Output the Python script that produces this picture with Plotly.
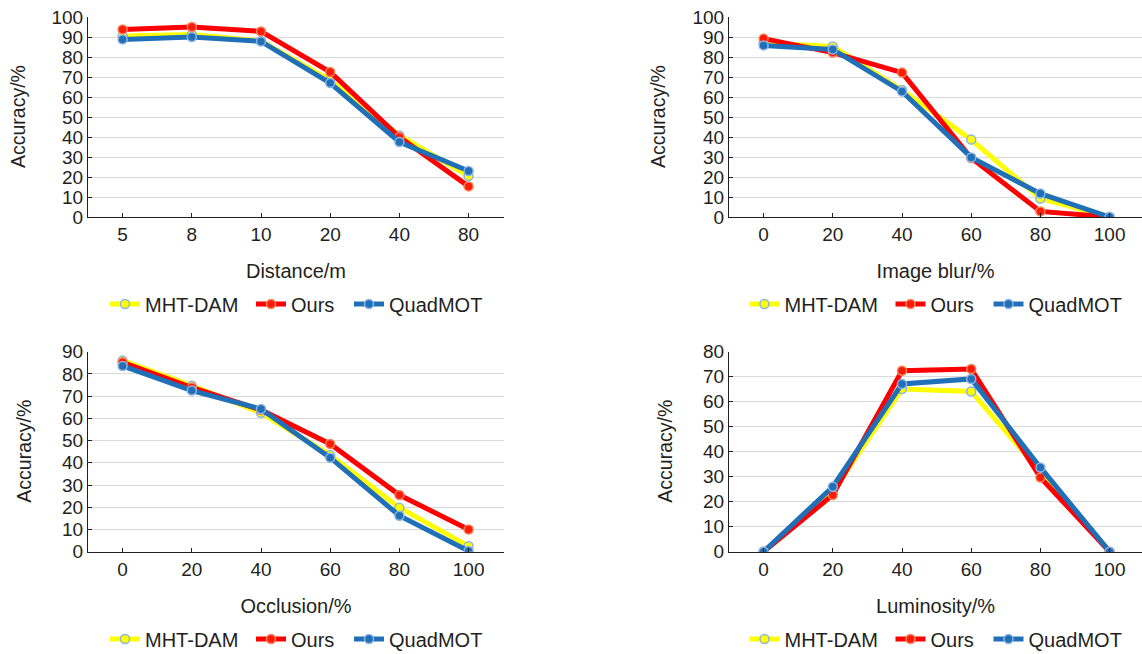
import plotly.graph_objects as go

# ---------------- data ----------------
series_names = ["MHT-DAM", "Ours", "QuadMOT"]

distance_cats = ["5", "8", "10", "20", "40", "80"]
distance_mht = [90.5, 91.2, 88.0, 68.3, 40.8, 20.5]
distance_ours = [93.8, 95.0, 92.8, 72.5, 40.0, 15.3]
distance_quad = [88.8, 90.0, 87.8, 67.0, 37.5, 23.0]

blur_cats = ["0", "20", "40", "60", "80", "100"]
blur_mht = [87.0, 85.3, 63.5, 38.7, 9.2, 0.0]
blur_ours = [89.2, 82.2, 72.2, 29.5, 2.8, 0.0]
blur_quad = [85.8, 83.8, 62.8, 29.8, 11.7, 0.0]

occl_cats = ["0", "20", "40", "60", "80", "100"]
occl_mht = [86.0, 74.7, 62.5, 43.5, 19.8, 2.5]
occl_ours = [85.2, 73.9, 63.8, 48.5, 25.5, 10.0]
occl_quad = [83.6, 72.5, 64.2, 42.3, 16.2, 0.3]

lum_cats = ["0", "20", "40", "60", "80", "100"]
lum_mht = [0.0, 24.0, 65.1, 64.1, 32.0, 0.0]
lum_ours = [0.0, 22.7, 72.4, 73.1, 29.7, 0.0]
lum_quad = [0.0, 26.0, 67.1, 69.1, 33.7, 0.0]

x_titles = ["Distance/m", "Image blur/%", "Occlusion/%", "Luminosity/%"]
y_title = "Accuracy/%"
y_maxes = [100, 100, 90, 80]

# ---------------- style ----------------
FONT = "Liberation Sans, Arial, sans-serif"
TXT = "#231F20"
W, H = 1142, 654
styles = {
    "MHT-DAM": dict(line=dict(color="#FFFF00", width=5),
                    marker=dict(size=9, color="#FFFF00", line=dict(color="#8DB4E2", width=1.5))),
    "Ours": dict(line=dict(color="#FF0000", width=5),
                 marker=dict(size=9, color="#FF1A0A", line=dict(color="#F5855A", width=1.5))),
    "QuadMOT": dict(line=dict(color="#2070B8", width=5),
                    marker=dict(size=9, color="#2070B8", line=dict(color="#8DB4E2", width=1.5))),
}
legend_widths = {"MHT-DAM": 101, "Ours": 53, "QuadMOT": 93}

panels = [
    (distance_cats, [distance_mht, distance_ours, distance_quad]),
    (blur_cats, [blur_mht, blur_ours, blur_quad]),
    (occl_cats, [occl_mht, occl_ours, occl_quad]),
    (lum_cats, [lum_mht, lum_ours, lum_quad]),
]

# pixel geometry (left, right, top, bottom) of each plot area
geo = [
    (88, 504, 17, 217),
    (729, 1142, 17, 217),
    (88, 504, 351.7, 551.7),
    (729, 1142, 351.7, 551.7),
]
legend_y_px = [304, 304, 639, 639]
ytitle_x_px = [18, 658, 24, 665]

fig = go.Figure()
layout = dict(
    width=W, height=H,
    margin=dict(l=0, r=0, t=0, b=0, autoexpand=False),
    paper_bgcolor="white", plot_bgcolor="white",
    font=dict(family=FONT, size=19, color=TXT),
)
annotations = []

for i, (cats, vals) in enumerate(panels):
    k = "" if i == 0 else str(i + 1)
    for name, v in zip(series_names, vals):
        fig.add_trace(go.Scatter(
            x=cats, y=v, name=name, mode="lines+markers",
            xaxis="x" + k, yaxis="y" + k, legend="legend" + k,
            legendwidth=legend_widths[name],
            **styles[name]))
    l, r, t, b = geo[i]
    xr_hi = -0.5 + (r - l) / 69.2
    layout["xaxis" + k] = dict(
        domain=[l / W, r / W], anchor="y" + k, type="category",
        range=[-0.5, xr_hi],
        showline=True, linecolor=TXT, linewidth=1,
        ticks="inside", ticklen=4, tickcolor=TXT,
        showgrid=False, zeroline=False, automargin=False,
        tickfont=dict(size=19, color=TXT),
        title=dict(text=x_titles[i], standoff=20, font=dict(size=20, color=TXT)),
        fixedrange=True,
    )
    layout["yaxis" + k] = dict(
        domain=[1 - b / H, 1 - t / H], anchor="x" + k,
        range=[0, y_maxes[i]], dtick=10, tick0=0,
        showline=True, linecolor=TXT, linewidth=1,
        ticks="inside", ticklen=4, tickcolor=TXT,
        showgrid=True, gridcolor="#D9D9D9", gridwidth=1,
        zeroline=False, automargin=False,
        tickfont=dict(size=19, color=TXT),
        fixedrange=True,
    )
    annotations.append(dict(
        text=y_title, textangle=-90, showarrow=False,
        xref="paper", yref="paper",
        x=ytitle_x_px[i] / W, y=1 - ((t + b) / 2) / H,
        xanchor="center", yanchor="middle",
        font=dict(size=19.5, color=TXT),
    ))
    layout["legend" + k] = dict(
        orientation="h", x=((l + r) / 2) / W, xanchor="center",
        y=1 - legend_y_px[i] / H, yanchor="middle",
        font=dict(size=20, color=TXT), bgcolor="rgba(0,0,0,0)",
        itemwidth=30,
    )

layout["annotations"] = annotations
fig.update_layout(**layout)
fig.write_html("out.html", config={"displayModeBar": False},
               post_script="document.body.style.margin='0';")
